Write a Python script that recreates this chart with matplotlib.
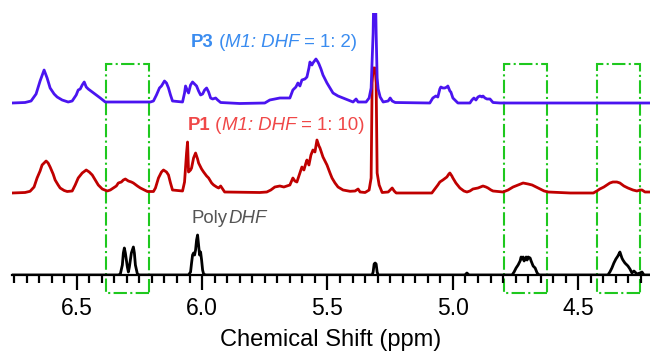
import numpy as np
import matplotlib
matplotlib.use("Agg")
import matplotlib.pyplot as plt
from matplotlib.patches import Rectangle
from matplotlib.ticker import MultipleLocator

plt.rcParams["font.family"] = ["Liberation Sans", "DejaVu Sans"]

# P3 (top, blue) - chemical shift (ppm) / intensity (a.u.)
p3_ppm = [6.758, 6.706, 6.682, 6.662, 6.646, 6.630, 6.618, 6.606, 6.590, 6.578, 6.558, 6.534,
          6.518, 6.502, 6.494, 6.486, 6.478, 6.470, 6.462, 6.454, 6.438, 6.422, 6.406, 6.386,
          6.206, 6.194, 6.182, 6.170, 6.162, 6.150, 6.142, 6.134, 6.126, 6.118, 6.078, 6.070,
          6.066, 6.058, 6.054, 6.046, 6.038, 6.030, 6.022, 6.014, 6.006, 5.998, 5.990, 5.982,
          5.974, 5.966, 5.958, 5.946, 5.938, 5.926, 5.850, 5.750, 5.730, 5.710, 5.690, 5.650,
          5.638, 5.626, 5.618, 5.610, 5.602, 5.590, 5.582, 5.574, 5.570, 5.562, 5.558, 5.546,
          5.538, 5.534, 5.526, 5.518, 5.502, 5.490, 5.478, 5.458, 5.438, 5.418, 5.398, 5.386,
          5.378, 5.346, 5.334, 5.326, 5.318, 5.314, 5.310, 5.306, 5.302, 5.298, 5.290, 5.278,
          5.258, 5.250, 5.242, 5.230, 5.092, 5.080, 5.068, 5.060, 5.052, 5.048, 5.040, 5.032,
          5.024, 5.020, 5.012, 5.008, 5.000, 4.988, 4.980, 4.932, 4.924, 4.916, 4.908, 4.900,
          4.892, 4.884, 4.880, 4.872, 4.864, 4.852, 4.840, 4.812, 4.214]
p3_int = [0, 0.5, 2, 9, 22, 33, 25, 15, 9, 6, 3, 1,
          2, 8, 13, 14, 18, 21, 16, 14, 11, 8, 5, 1,
          1, 2, 8, 15, 17, 22, 20, 15, 8, 2, 1, 10,
          17, 12, 10, 18, 21, 19, 17, 12, 8, 9, 13, 15,
          11, 5, 4, 5, 3, 0.5, -0.5, 0, 3, 4, 5, 5,
          13, 16, 20, 17, 23, 24, 26, 35, 41, 38, 40, 44,
          41, 39, 34, 28, 20, 15, 10, 7, 5, 3, 1, 4,
          1, 1, 5, 15, 70, 130, 130, 70, 25, 14, 6, 1,
          2, 5, 2, 0.5, 0, 5, 7, 6, 14, 16, 15, 15,
          16, 17, 12, 11, 5, 2, 0, 0, 3, 5, 3, 6,
          7, 6, 7, 5, 4, 4, 0.5, 0, 0]

# P1 (middle, red)
p1_ppm = [6.758, 6.706, 6.686, 6.670, 6.658, 6.646, 6.638, 6.622, 6.614, 6.606, 6.594, 6.586,
          6.574, 6.566, 6.550, 6.538, 6.518, 6.506, 6.494, 6.478, 6.462, 6.450, 6.438, 6.426,
          6.414, 6.398, 6.378, 6.366, 6.354, 6.342, 6.334, 6.322, 6.314, 6.306, 6.294, 6.282,
          6.274, 6.258, 6.246, 6.230, 6.218, 6.194, 6.186, 6.174, 6.162, 6.154, 6.142, 6.134,
          6.126, 6.118, 6.078, 6.070, 6.062, 6.058, 6.054, 6.046, 6.042, 6.034, 6.026, 6.018,
          6.014, 6.002, 5.994, 5.982, 5.974, 5.962, 5.954, 5.942, 5.934, 5.926, 5.918, 5.910,
          5.770, 5.742, 5.726, 5.710, 5.690, 5.674, 5.662, 5.650, 5.638, 5.630, 5.622, 5.610,
          5.602, 5.594, 5.586, 5.582, 5.574, 5.566, 5.558, 5.550, 5.542, 5.534, 5.530, 5.518,
          5.502, 5.490, 5.482, 5.470, 5.458, 5.438, 5.410, 5.390, 5.378, 5.370, 5.350, 5.334,
          5.326, 5.322, 5.318, 5.310, 5.306, 5.302, 5.294, 5.282, 5.258, 5.250, 5.242, 5.234,
          5.226, 5.084, 5.072, 5.060, 5.052, 5.040, 5.024, 5.016, 5.012, 5.004, 5.000, 4.988,
          4.972, 4.956, 4.944, 4.932, 4.920, 4.900, 4.880, 4.868, 4.860, 4.848, 4.840, 4.800,
          4.780, 4.760, 4.740, 4.720, 4.700, 4.684, 4.668, 4.652, 4.636, 4.620, 4.532, 4.440,
          4.426, 4.414, 4.398, 4.386, 4.374, 4.362, 4.346, 4.334, 4.318, 4.302, 4.282, 4.266,
          4.254, 4.246, 4.234, 4.214]
p1_int = [0, 0.5, 1.7, 6, 15, 22, 28, 32, 30, 26, 19, 13,
          8, 5, 2.5, 1.5, 2, 8, 15, 20, 23, 21, 18, 13,
          8, 4, 2, 3, 5, 7, 10, 11, 13, 14, 12, 11,
          10, 7, 5, 3, 1.5, 1.5, 5, 15, 21, 23, 21, 18,
          10, 3, 2, 11, 40, 51, 21, 23, 25, 35, 40, 34,
          30, 24, 21, 17, 15, 10, 8, 6, 5, 7, 4, 1,
          0.5, 1, 3, 6, 7, 6, 7, 8, 15, 12, 11, 20,
          26, 23, 30, 33, 28, 38, 43, 41, 53, 47, 45, 36,
          28, 20, 15, 10, 6, 3, 1.7, 2, 4, 1, 0.5, 3,
          15, 110, 125, 125, 110, 20, 8, 0.5, 1, 3, 5, 2,
          0, 0, 4, 8, 11, 13, 16, 19, 20, 17, 15, 10,
          5, 2, 1, 2, 4, 5, 7, 6, 5, 3, 2, 1,
          3, 6, 8, 10, 9, 8, 6, 4, 2, 1, 0, 0,
          2, 4, 6, 8, 10, 11, 11, 10, 7, 5, 3, 2,
          3, 3, 1, 1]

# PolyDHF (bottom, black)
pd_ppm = [6.758, 6.334, 6.326, 6.318, 6.314, 6.310, 6.306, 6.298, 6.294, 6.290, 6.282, 6.274,
          6.270, 6.266, 6.258, 6.250, 6.054, 6.046, 6.042, 6.038, 6.034, 6.030, 6.026, 6.022,
          6.018, 6.014, 6.010, 6.006, 6.002, 5.998, 5.994, 5.986, 5.322, 5.318, 5.314, 5.310,
          5.306, 5.302, 5.298, 4.952, 4.944, 4.936, 4.764, 4.756, 4.748, 4.740, 4.732, 4.728,
          4.724, 4.720, 4.716, 4.712, 4.708, 4.704, 4.700, 4.692, 4.688, 4.680, 4.672, 4.664,
          4.656, 4.382, 4.374, 4.366, 4.358, 4.350, 4.342, 4.338, 4.334, 4.330, 4.326, 4.322,
          4.314, 4.302, 4.294, 4.286, 4.278, 4.274, 4.266, 4.254, 4.246, 4.238, 4.214]
pd_int = [0, 0, 1, 10, 22, 27, 22, 8, 3, 8, 22, 28,
          22, 10, 1, 0, 0, 3, 12, 20, 22, 20, 25, 35,
          40, 30, 20, 23, 15, 5, 1, 0, 0, 3, 11, 12,
          11, 3, 0, 0, 2, 0, 0, 3, 7, 10, 14, 18,
          16, 18, 14, 16, 18, 15, 18, 17, 14, 9, 7, 2,
          0, 0, 3, 7, 12, 16, 19, 21, 23, 20, 17, 15,
          12, 9, 6, 2, 4, 3, 1, 2, 3, 0, 0]

# regions marked with dashed boxes (ppm)
box_left = [6.384, 4.798, 4.427]
box_right = [6.212, 4.623, 4.252]

offsets = {"pd": 0, "p1": 82, "p3": 172}

fig = plt.figure(figsize=(6.5, 3.51), dpi=100)
ax = fig.add_axes([12 / 650, 76 / 351, 638 / 650, 262 / 351])

ax.plot(pd_ppm, np.array(pd_int) + offsets["pd"], color="black", lw=2.0)
ax.plot(p1_ppm, np.array(p1_int) + offsets["p1"], color="#c00000", lw=2.0)
ax.plot(p3_ppm, np.array(p3_int) + offsets["p3"], color="#4a14f0", lw=2.0)

for l, r in zip(box_left, box_right):
    ax.add_patch(Rectangle((r, -18), l - r, 229, fill=False, ec="#1ec81e",
                           lw=1.5, ls="-.", clip_on=False))

ax.set_xlim(6.758, 4.214)
ax.set_ylim(0, 262)
for s in ["top", "left", "right"]:
    ax.spines[s].set_visible(False)
ax.spines["bottom"].set_linewidth(1.6)
ax.set_yticks([])
ax.xaxis.set_major_locator(MultipleLocator(0.5))
ax.xaxis.set_minor_locator(MultipleLocator(0.05))
ax.xaxis.set_major_formatter(matplotlib.ticker.FormatStrFormatter("%.1f"))
ax.tick_params(axis="x", which="major", direction="out", length=11, width=1.6,
               labelsize=16.5, pad=5)
ax.tick_params(axis="x", which="minor", direction="out", length=6, width=1.6)
ax.set_xlabel("Chemical Shift (ppm)", fontsize=17, labelpad=6)
ax.patch.set_alpha(0)


def rich_label(x, y, pieces, color, size=13.4):
    t = ax.text(x, y, pieces[0][0], color=color, fontsize=size,
                fontweight=pieces[0][1], fontstyle=pieces[0][2], va="baseline")
    for s, w, st in pieces[1:]:
        t = ax.annotate(s, xy=(1, 0), xycoords=t, va="bottom", ha="left",
                        color=color, fontsize=size, fontweight=w, fontstyle=st)


rich_label(6.045, 228, [("P3", "bold", "normal"), (" (", "normal", "normal"),
                        ("M1: DHF", "normal", "italic"), (" = 1: 2)", "normal", "normal")],
           "#3a8cf0")
rich_label(6.057, 145, [("P1", "bold", "normal"), (" (", "normal", "normal"),
                        ("M1: DHF", "normal", "italic"), (" = 1: 10)", "normal", "normal")],
           "#f04848")
rich_label(6.041, 52, [("Poly", "normal", "normal"), ("DHF", "normal", "italic")],
           "#555555")

fig.savefig("out.png", dpi=100)
